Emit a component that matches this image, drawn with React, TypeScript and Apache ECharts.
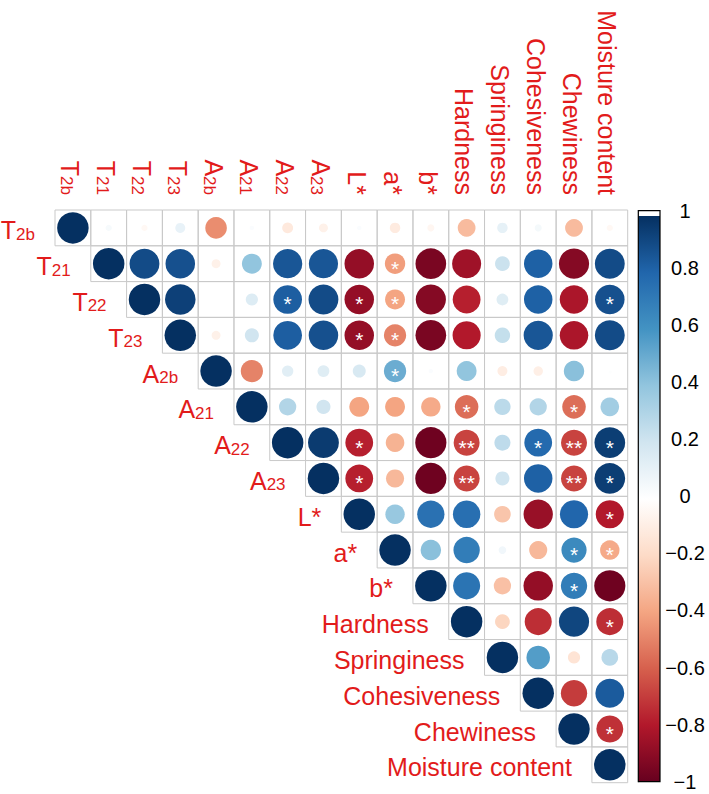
import React, { useEffect, useRef } from "react";
import * as echarts from "echarts";

const labels = [
  "T2b", "T21", "T22", "T23", "A2b", "A21", "A22", "A23",
  "L*", "a*", "b*", "Hardness", "Springiness", "Cohesiveness", "Chewiness", "Moisture content",
];

// upper-triangle correlation rows (row i holds columns i..15)
const rowT2b = [1, 0.04, -0.04, 0.1, -0.47, 0.02, -0.12, -0.08, 0.02, -0.11, -0.05, -0.32, 0.11, 0.05, -0.32, -0.04];
const rowT21 = [1, 0.9, 0.88, -0.08, 0.4, 0.86, 0.86, -0.88, -0.42, -0.95, -0.85, 0.22, 0.82, -0.92, 0.9];
const rowT22 = [1, 0.94, 0.0, 0.15, 0.83, 0.9, -0.88, -0.4, -0.92, -0.78, 0.14, 0.82, -0.82, 0.88];
const rowT23 = [1, -0.08, 0.2, 0.83, 0.88, -0.88, -0.5, -0.95, -0.8, 0.24, 0.86, -0.82, 0.9];
const rowA2b = [1, -0.5, 0.13, 0.14, 0.17, 0.5, 0.02, 0.4, -0.1, -0.09, 0.42, 0.01];
const rowA21 = [1, 0.3, 0.2, -0.4, -0.4, -0.38, -0.56, 0.27, 0.3, -0.56, 0.35];
const rowA22 = [1, 0.96, -0.78, -0.35, -0.98, -0.68, 0.26, 0.78, -0.68, 0.95];
const rowA23 = [1, -0.78, -0.33, -0.98, -0.68, 0.2, 0.82, -0.68, 0.95];
const rowL = [1, 0.38, 0.75, 0.76, -0.28, -0.87, 0.8, -0.8];
const rowA = [1, 0.42, 0.7, 0.06, -0.33, 0.64, -0.38];
const rowB = [1, 0.74, -0.3, -0.88, 0.7, -0.98];
const rowHardness = [1, -0.22, -0.74, 0.92, -0.74];
const rowSpringiness = [1, 0.56, -0.15, 0.28];
const rowCohesiveness = [1, -0.7, 0.84];
const rowChewiness = [1, -0.73];
const rowMoisture = [1];

const corrRows = [
  rowT2b, rowT21, rowT22, rowT23, rowA2b, rowA21, rowA22, rowA23,
  rowL, rowA, rowB, rowHardness, rowSpringiness, rowCohesiveness, rowChewiness, rowMoisture,
];

// significance marks: [row, column, mark]
const stars: [number, number, string][] = [
  [1, 9, "*"],
  [2, 6, "*"], [2, 8, "*"], [2, 9, "*"], [2, 15, "*"],
  [3, 8, "*"], [3, 9, "*"],
  [4, 9, "*"],
  [5, 11, "*"], [5, 14, "*"],
  [6, 8, "*"], [6, 11, "**"], [6, 13, "*"], [6, 14, "**"], [6, 15, "*"],
  [7, 8, "*"], [7, 11, "**"], [7, 14, "**"], [7, 15, "*"],
  [8, 15, "*"],
  [9, 14, "*"], [9, 15, "*"],
  [10, 14, "*"],
  [11, 15, "*"],
  [14, 15, "*"],
];

const palette = [
  "#67001F", "#B2182B", "#D6604D", "#F4A582", "#FDDBC7", "#FFFFFF",
  "#D1E5F0", "#92C5DE", "#4393C3", "#2166AC", "#053061",
];

const RED = "#e21b1b";
const FONT = "'Liberation Sans', Arial, Helvetica, sans-serif";

function richName(name: string): string {
  if (/^[TA]\d/.test(name)) return `{b|${name[0]}}{s|${name.slice(1)}}`;
  return `{b|${name}}`;
}

const richStyles = {
  b: { fontSize: 25, fontFamily: FONT, color: RED, fill: RED, verticalAlign: "bottom", lineHeight: 30 },
  s: { fontSize: 17, fontFamily: FONT, color: RED, fill: RED, verticalAlign: "bottom", lineHeight: 24.4 },
};

function barLabel(v: number): string {
  const r = Math.round(v * 10) / 10;
  if (r === 0) return "0";
  return (r < 0 ? "\u2212" : "") + String(Math.abs(r));
}

export default function App() {
  const ref = useRef<HTMLDivElement>(null);
  useEffect(() => {
    const chart = echarts.init(ref.current as HTMLDivElement, null, { renderer: "svg" });
    const cells: number[][] = [];
    corrRows.forEach((row, i) => row.forEach((v, k) => cells.push([i + k, i, v])));
    const starMap = new Map(stars.map(([r, c, m]) => [`${r}-${c}`, m]));

    const option: any = {
      animation: false,
      grid: [
        { left: 55, top: 210, width: 572.7, height: 572.7 },
        { left: 638.3, top: 210.7, width: 21.7, height: 571 },
      ],
      xAxis: [
        {
          type: "category", data: labels, position: "top", gridIndex: 0,
          axisLine: { show: false }, axisTick: { show: false }, splitLine: { show: false },
          axisLabel: {
            rotate: 90, margin: 15, interval: 0,
            formatter: (v: string) => richName(v), rich: richStyles, color: RED,
          },
        },
        { type: "value", gridIndex: 1, min: 0, max: 1, show: false },
      ],
      yAxis: [
        { type: "category", data: labels, inverse: true, gridIndex: 0, show: false },
        {
          type: "value", gridIndex: 1, min: -1, max: 1, interval: 0.2, position: "right",
          axisLine: { show: true, lineStyle: { color: "#000", width: 1 } },
          axisTick: { show: true, length: 4, lineStyle: { color: "#000" } },
          splitLine: { show: false },
          axisLabel: {
            formatter: barLabel, color: "#000", fontSize: 20, fontFamily: FONT,
            align: "center", margin: 25,
          },
        },
      ],
      visualMap: {
        type: "continuous", show: false, min: -1, max: 1, dimension: 2, seriesIndex: 0,
        inRange: { color: palette },
      },
      series: [
        {
          type: "custom", xAxisIndex: 0, yAxisIndex: 0, data: cells,
          renderItem: (params: any, api: any) => {
            const col = api.value(0), row = api.value(1), v = api.value(2);
            const c = api.coord([col, row]);
            const s = api.size([1, 1]);
            const children: any[] = [
              {
                type: "rect",
                shape: { x: c[0] - s[0] / 2, y: c[1] - s[1] / 2, width: s[0], height: s[1] },
                style: { fill: "none", stroke: "#c9c9c9", lineWidth: 1 },
              },
              {
                type: "circle",
                shape: { cx: c[0], cy: c[1], r: Math.sqrt(Math.abs(v)) * s[0] * 0.44 },
                style: { fill: api.visual("color") },
              },
            ];
            const mark = starMap.get(`${row}-${col}`);
            if (mark) {
              children.push({
                type: "text", x: c[0], y: c[1] + 4.5,
                style: {
                  text: mark, fill: "#fff", fontSize: 21, fontFamily: FONT,
                  align: "center", verticalAlign: "middle",
                },
              });
            }
            return { type: "group", children };
          },
        },
        {
          type: "custom", xAxisIndex: 0, yAxisIndex: 0,
          data: labels.map((_, i) => [i, i]),
          renderItem: (params: any, api: any) => {
            const c = api.coord([api.value(0), api.value(1)]);
            const s = api.size([1, 1]);
            return {
              type: "text", x: c[0] - s[0] / 2 - 20, y: c[1],
              style: {
                text: richName(labels[params.dataIndex]), rich: richStyles,
                fill: RED, fontSize: 25, fontFamily: FONT,
                align: "right", verticalAlign: "middle",
              },
            };
          },
        },
        {
          type: "custom", xAxisIndex: 1, yAxisIndex: 1, data: [[0, -1]],
          renderItem: (params: any, api: any) => {
            const top = api.coord([0, 1]);
            const p0 = api.coord([0, 0.981]);
            const p1 = api.coord([1, -1]);
            const grad = new echarts.graphic.LinearGradient(
              0, 0, 0, 1,
              palette.slice().reverse().map((col, i) => ({ offset: i / 10, color: col })),
            );
            return {
              type: "group",
              children: [
                { type: "rect", shape: { x: top[0], y: top[1], width: p1[0] - top[0], height: p1[1] - top[1] }, style: { fill: "#fff" } },
                { type: "rect", shape: { x: p0[0], y: p0[1], width: p1[0] - p0[0], height: p1[1] - p0[1] }, style: { fill: grad } },
                { type: "rect", shape: { x: top[0], y: top[1], width: p1[0] - top[0], height: p1[1] - top[1] }, style: { fill: "none", stroke: "#000", lineWidth: 1.2 } },
              ],
            };
          },
        },
      ],
    };
    chart.setOption(option);
    return () => chart.dispose();
  }, []);
  return <div ref={ref} style={{ position: "absolute", left: 0, top: 0, width: 709, height: 794 }} />;
}
